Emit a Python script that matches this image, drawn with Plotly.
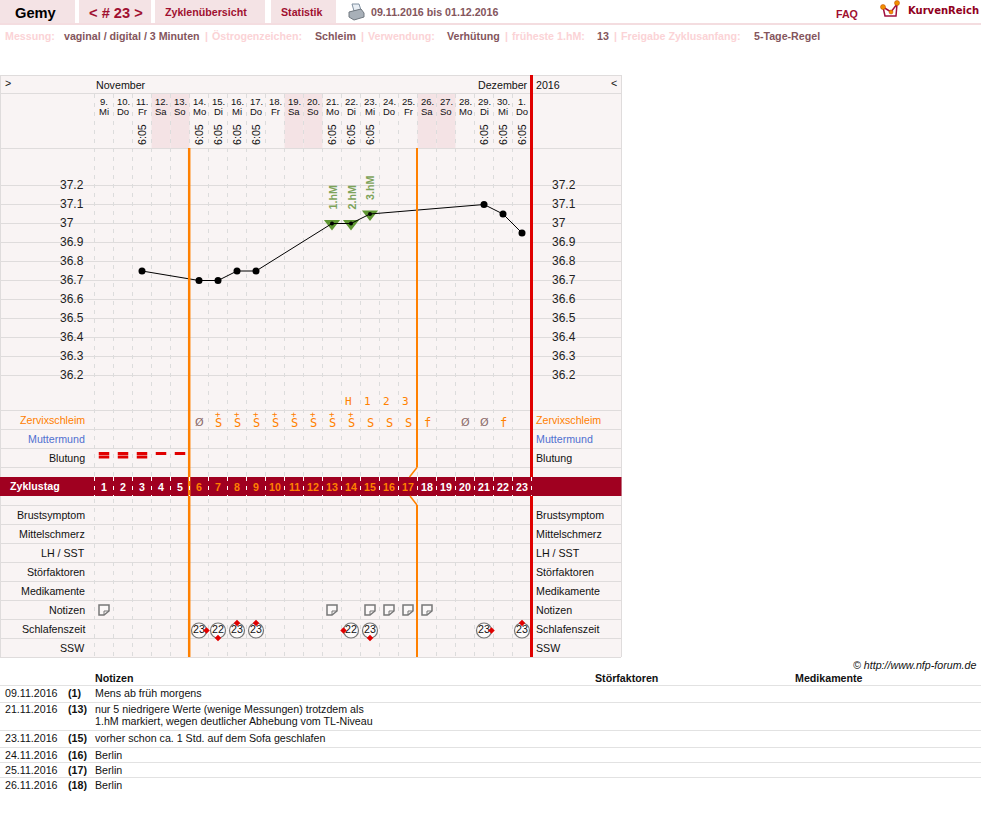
import math
import plotly.graph_objects as go

# ---------------- data ----------------
cycle_days = list(range(1, 24))
dates = ["9.", "10.", "11.", "12.", "13.", "14.", "15.", "16.", "17.", "18.", "19.", "20.", "21.", "22.", "23.", "24.", "25.", "26.", "27.", "28.", "29.", "30.", "1."]
weekdays = ["Mi", "Do", "Fr", "Sa", "So", "Mo", "Di", "Mi", "Do", "Fr", "Sa", "So", "Mo", "Di", "Mi", "Do", "Fr", "Sa", "So", "Mo", "Di", "Mi", "Do"]
weekend_days = [4, 5, 11, 12, 18, 19]
time_days = [3, 6, 7, 8, 9, 13, 14, 15, 21, 22, 23]
time_label = "6:05"
temp_days = [3, 6, 7, 8, 9, 13, 14, 15, 21, 22, 23]
temps = [36.75, 36.70, 36.70, 36.75, 36.75, 37.00, 37.00, 37.05, 37.10, 37.05, 36.95]
hm_days = [13, 14, 15]
hm_temps = [37.00, 37.00, 37.05]
hm_labels = ["1.hM", "2.hM", "3.hM"]
temp_ticks = [37.2, 37.1, 37.0, 36.9, 36.8, 36.7, 36.6, 36.5, 36.4, 36.3, 36.2]
temp_tick_labels = ["37.2", "37.1", "37", "36.9", "36.8", "36.7", "36.6", "36.5", "36.4", "36.3", "36.2"]
peak_days = [14, 15, 16, 17]
peak_labels = ["H", "1", "2", "3"]
mucus_days = [6, 7, 8, 9, 10, 11, 12, 13, 14, 15, 16, 17, 18, 20, 21, 22]
mucus_codes = ["Ø", "S+", "S+", "S+", "S+", "S+", "S+", "S+", "S+", "S", "S", "S", "f", "Ø", "Ø", "f"]
bleed_days = [1, 2, 3, 4, 5]
bleed_levels = [2, 2, 2, 1, 1]
note_days = [1, 13, 15, 16, 17, 18]
sleep_days = [6, 7, 8, 9, 14, 15, 21, 23]
sleep_hours = [23, 22, 23, 23, 22, 23, 23, 23]
sleep_minutes = [15, 30, 0, 0, 45, 30, 15, 0]
left_rows = ["Zervixschleim", "Muttermund", "Blutung", "Brustsymptom", "Mittelschmerz", "LH / SST", "Störfaktoren", "Medikamente", "Notizen", "Schlafenszeit", "SSW"]
row_centers = [420, 439, 458, 515, 534, 553, 572, 591, 610, 629, 648]
row_colors = ["#ff8000", "#5070d0", "#111111", "#111111", "#111111", "#111111", "#111111", "#111111", "#111111", "#111111", "#111111"]
note_rows = [
    ("09.11.2016", "(1)", ["Mens ab früh morgens"]),
    ("21.11.2016", "(13)", ["nur 5 niedrigere Werte (wenige Messungen) trotzdem als", "1.hM markiert, wegen deutlicher Abhebung vom TL-Niveau"]),
    ("23.11.2016", "(15)", ["vorher schon ca. 1 Std. auf dem Sofa geschlafen"]),
    ("24.11.2016", "(16)", ["Berlin"]),
    ("25.11.2016", "(17)", ["Berlin"]),
    ("26.11.2016", "(18)", ["Berlin"]),
]

# ---------------- layout constants ----------------
W, H = 981, 831
PX_PER_DAY = 19
DAY_ZERO_PX = 85          # pixel position of "day 0" centre
PX_PER_DEG = 190
T_REF, T_REF_PX = 37.2, 185.5
SANS = "Liberation Sans"
BASE = 10.67
MAROON = "#a00020"
ORANGE = "#ff8000"
RED = "#e00000"
GRID = "#dfdcdc"
PANEL = "#f9f4f4"
SHADE = "#f4e3e5"
PINK = "#fbd3d6"
BROWN = "#84555c"
DARKRED = "#a01030"

fig = go.Figure()
shapes = []
annots = []


def rect(x0, y0, x1, y1, fill, layer="below"):
    shapes.append(dict(type="rect", xref="x2", yref="y2", x0=x0, x1=x1, y0=y0, y1=y1,
                       fillcolor=fill, line_width=0, layer=layer))


def hline(y, x0=0, x1=621, color=GRID, width=1, yref="y2", dash="solid", layer="below"):
    shapes.append(dict(type="line", xref="x2", yref=yref, x0=x0, x1=x1, y0=y, y1=y,
                       line=dict(color=color, width=width, dash=dash), layer=layer))


def vline(x, y0, y1, color=GRID, width=1, dash="solid", layer="below", xref="x2"):
    shapes.append(dict(type="line", xref=xref, yref="y2", x0=x, x1=x, y0=y0, y1=y1,
                       line=dict(color=color, width=width, dash=dash), layer=layer))


def seg(x0, y0, x1, y1, color, width, layer="above"):
    shapes.append(dict(type="line", xref="x2", yref="y2", x0=x0, x1=x1, y0=y0, y1=y1,
                       line=dict(color=color, width=width), layer=layer))


def txt(x, y, s, size=BASE, color="#111111", bold=False, anchor="left", family=SANS, angle=0,
        xref="x2", yref="y2", yshift=0, italic=False):
    t = f"<b>{s}</b>" if bold else s
    t = f"<i>{t}</i>" if italic else t
    if anchor == "left" and xref == "x2":
        x = x - 1
    annots.append(dict(x=x, y=y, xref=xref, yref=yref, text=t, showarrow=False, xanchor=anchor,
                       yanchor="middle", textangle=angle, borderpad=0, yshift=yshift,
                       font=dict(size=size, color=color, family=family)))


# ---------------- page header ----------------
for x0, x1 in [(0, 75), (79, 151), (155, 265), (271, 336)]:
    rect(x0, 0, x1, 23, SHADE)
rect(0, 23, W, 25, "#f4dde0")
txt(36, 13, "Gemy", size=14.67, bold=True, anchor="center", color="#000000")
txt(115.5, 13, "&lt; # 23 &gt;", size=14.67, bold=True, anchor="center", color=DARKRED)
txt(206, 12, "Zyklenübersicht", bold=True, anchor="center", color=DARKRED)
txt(301.5, 12, "Statistik", bold=True, anchor="center", color=DARKRED)
txt(371, 12, "09.11.2016 bis 01.12.2016", bold=True, color=BROWN)
txt(836, 14, "FAQ", bold=True, color=DARKRED)
txt(908, 10, "KurvenReich", size=10, bold=True, color="#900020", family="DejaVu Sans")

# printer icon
shapes.append(dict(type="path", xref="x2", yref="y2", path="M352,4 L359,4 L361,10 L354,11 Z",
                   fillcolor="#e8eef4", line=dict(color="#8090a0", width=1), layer="above"))
shapes.append(dict(type="path", xref="x2", yref="y2", path="M349,12 L361,9 L364,13 L364,17 L354,20 L349,17 Z",
                   fillcolor="#a8b0b8", line=dict(color="#707880", width=1), layer="above"))
# logo
shapes.append(dict(type="path", xref="x2", yref="y2", path="M883,7 L885,16 L896,16 L897,4 L891,12 L883,7",
                   fillcolor="rgba(0,0,0,0)", line=dict(color="#a01040", width=1.5), layer="above"))
for cx, cy, r in [(883, 7, 2.5), (891, 12, 2), (897, 3, 2.5)]:
    shapes.append(dict(type="circle", xref="x2", yref="y2", x0=cx - r, x1=cx + r, y0=cy - r, y1=cy + r,
                       fillcolor="#f09000", line=dict(color="#c04000", width=0.5), layer="above"))

meta = [(5, "Messung:", PINK), (64, "vaginal / digital / 3 Minuten", BROWN), (205, "|", PINK),
        (212, "Östrogenzeichen:", PINK), (315, "Schleim", BROWN), (361, "|", PINK),
        (368, "Verwendung:", PINK), (447, "Verhütung", BROWN), (505, "|", PINK),
        (512, "früheste 1.hM:", PINK), (597, "13", BROWN), (614, "|", PINK),
        (621, "Freigabe Zyklusanfang:", PINK), (754, "5-Tage-Regel", BROWN)]
for x, s, c in meta:
    txt(x, 36, s, bold=True, color=c)

# ---------------- chart panel ----------------
rect(0, 75, 621.5, 657, PANEL)
for d in weekend_days:
    shapes.append(dict(type="rect", xref="x", yref="y2", x0=d - 0.5, x1=d + 0.5, y0=94, y1=148,
                       fillcolor=SHADE, line_width=0, layer="below"))
for y in [75.5, 93.5, 148.5, 410.5, 429.5, 448.5, 467.5, 505.5, 524.5, 543.5, 562.5, 581.5, 600.5, 619.5, 638.5, 657.5]:
    hline(y)
vline(0.5, 75, 657)
vline(621.5, 75, 657)
for t in temp_ticks:
    hline(t, yref="y")
for d in [0] + cycle_days:
    vline(d + 0.5, 94, 657, dash="4px,5px", color="#dcdcdc", xref="x")
rect(0, 477, 621.5, 496, MAROON, layer="above")

# vertical markers
vline(189.2, 148, 657, color=ORANGE, width=2.5, layer="above")
vline(417, 148, 467.5, color=ORANGE, width=2, layer="above")
seg(417, 467.5, 409.5, 477, ORANGE, 1.5)
seg(410, 496, 417, 505, ORANGE, 1.5)
vline(417, 505, 657, color=ORANGE, width=2, layer="above")
vline(531.5, 75, 477, color=RED, width=3, layer="above")
vline(531.5, 496, 657, color=RED, width=3, layer="above")

# panel header texts
txt(5, 83, "&gt;")
txt(96, 85, "November")
txt(478, 85, "Dezember")
txt(536, 85, "2016")
txt(611, 83, "&lt;")
for d, a, b in zip(cycle_days, dates, weekdays):
    txt(d, 101, a, size=9.5, anchor="center", xref="x")
    txt(d, 111, b, size=9.5, anchor="center", xref="x")
for d in time_days:
    txt(d, 135, time_label, anchor="center", angle=-90, xref="x")

# row captions
for s, y, c in zip(left_rows, row_centers, row_colors):
    txt(86, y, s, color=c, anchor="right")
    txt(536, y, s, color=c)
txt(10, 486, "Zyklustag", bold=True, color="#ffffff")

# cycle day numbers on the band
for d in cycle_days:
    col = ORANGE if 6 <= d <= 17 else "#ffffff"
    annots.append(dict(x=d, y=486.5, xref="x", yref="y2", text=f"<b>{d}</b>", showarrow=False,
                       xanchor="center", yanchor="middle", borderpad=0,
                       font=dict(size=BASE, color=col, family=SANS)))
for d in [0] + cycle_days:
    shapes.append(dict(type="line", xref="x", yref="y2", x0=d + 0.5, x1=d + 0.5, y0=477, y1=496,
                       line=dict(color="#ffffff", width=1, dash="4px,5px"), layer="above"))

# temperature tick labels
for tick_x in [60, 552]:
    fig.add_trace(go.Scatter(x=[tick_x] * len(temp_ticks), y=temp_ticks, xaxis="x2", yaxis="y", mode="text",
                             text=temp_tick_labels, textposition="middle right",
                             textfont=dict(size=12, color="#222222", family=SANS), hoverinfo="skip", cliponaxis=False))

# temperature curve
fig.add_trace(go.Scatter(x=hm_days, y=hm_temps, xaxis="x", yaxis="y", mode="markers",
                         marker=dict(symbol="triangle-down", size=14, color="#5e9632", opacity=1, line=dict(width=0)),
                         hoverinfo="skip"))
normal_size = [4 if d in hm_days else 7 for d in temp_days]
fig.add_trace(go.Scatter(x=temp_days, y=temps, xaxis="x", yaxis="y", mode="lines+markers",
                         line=dict(color="#000000", width=1),
                         marker=dict(size=normal_size, color="#000000", opacity=1, line=dict(width=0)), hoverinfo="skip"))
for d, t, s in zip(hm_days, hm_temps, hm_labels):
    txt(d, t, s, bold=True, color="#7da35a", anchor="center", angle=-90, xref="x", yref="y", yshift=26)

# peak day counters
for d, s in zip(peak_days, peak_labels):
    txt(d - 0.12, 401, s, size=11, color=ORANGE, anchor="center", xref="x", family="DejaVu Sans Mono")

# mucus symbols
for d, c in zip(mucus_days, mucus_codes):
    if c == "Ø":
        txt(d, 422, c, size=11, color="#8a6a6a", anchor="center", xref="x", family="DejaVu Sans")
        continue
    txt(d, 422.5, c[0], size=12, color=ORANGE, anchor="center", xref="x", family="DejaVu Sans Mono")
    if c.endswith("+"):
        txt(d, 413.5, "+", size=9, color=ORANGE, anchor="center", xref="x", family="DejaVu Sans Mono")

# bleeding
upper = list(bleed_days)
lower = [d for d, l in zip(bleed_days, bleed_levels) if l == 2]
fig.add_trace(go.Scatter(x=upper, y=[453.5] * len(upper), xaxis="x", yaxis="y2", mode="markers",
                         marker=dict(symbol="line-ew", size=7.5, line=dict(color=RED, width=3)), hoverinfo="skip"))
fig.add_trace(go.Scatter(x=lower, y=[457] * len(lower), xaxis="x", yaxis="y2", mode="markers",
                         marker=dict(symbol="line-ew", size=7.5, line=dict(color=RED, width=3)), hoverinfo="skip"))

# note icons
for d in note_days:
    shapes.append(dict(type="path", xref="x", yref="y2", xsizemode="pixel", ysizemode="pixel",
                       xanchor=d, yanchor=610,
                       path="M-5,5 L5,5 L5,-1 L0,-5 L-5,-5 Z",
                       fillcolor="#fbf8f8", line=dict(color="#777777", width=1.5), layer="above"))
    shapes.append(dict(type="path", xref="x", yref="y2", xsizemode="pixel", ysizemode="pixel",
                       xanchor=d, yanchor=610,
                       path="M5,-1 L0,-1 L0,-5",
                       line=dict(color="#777777", width=1), layer="above"))

# sleep times
fig.add_trace(go.Scatter(x=sleep_days, y=[630.5] * len(sleep_days), xaxis="x", yaxis="y2", mode="markers+text",
                         text=[str(h) for h in sleep_hours], textposition="middle center",
                         textfont=dict(size=BASE, color="#111111", family=SANS),
                         marker=dict(symbol="circle", size=15, color="rgba(255,255,255,0.5)", line=dict(color="#777777", width=1.2)),
                         hoverinfo="skip"))
mx = [d + 7.5 * math.sin(m / 60 * 2 * math.pi) / PX_PER_DAY for d, m in zip(sleep_days, sleep_minutes)]
my = [630.5 - 7.5 * math.cos(m / 60 * 2 * math.pi) for m in sleep_minutes]
fig.add_trace(go.Scatter(x=mx, y=my, xaxis="x", yaxis="y2", mode="markers",
                         marker=dict(symbol="diamond", size=5, color=RED), hoverinfo="skip"))

# ---------------- notes table ----------------
txt(977, 665, "© http://www.nfp-forum.de", anchor="right", italic=True)
txt(95, 678, "Notizen", bold=True)
txt(595, 678, "Störfaktoren", bold=True)
txt(795, 678, "Medikamente", bold=True)
for y in [685.5, 702.5, 730.5, 747.5, 762.5, 777.5]:
    hline(y, x0=0, x1=W, color="#e2e2e2")
row_y = [693, 709, 738, 755, 770, 785]
for (dt, num, lines), y in zip(note_rows, row_y):
    txt(5, y, dt)
    txt(68, y, num, bold=True)
    for i, ln in enumerate(lines):
        txt(95, y + 12 * i, ln)

# ---------------- axes ----------------
day_range = [(0 - DAY_ZERO_PX) / PX_PER_DAY, (W - DAY_ZERO_PX) / PX_PER_DAY]
temp_range = [T_REF - (H - T_REF_PX) / PX_PER_DEG, T_REF + T_REF_PX / PX_PER_DEG]
hidden = dict(visible=False, showgrid=False, zeroline=False, fixedrange=True)
fig.update_layout(
    width=W, height=H, margin=dict(l=0, r=0, t=0, b=0), showlegend=False,
    paper_bgcolor="#ffffff", plot_bgcolor="rgba(0,0,0,0)",
    font=dict(family=SANS, size=BASE),
    xaxis=dict(range=day_range, domain=[0, 1], **hidden),
    yaxis=dict(range=temp_range, domain=[0, 1], **hidden),
    xaxis2=dict(range=[0, W], domain=[0, 1], overlaying="x", **hidden),
    yaxis2=dict(range=[H, 0], domain=[0, 1], overlaying="y", **hidden),
    shapes=shapes, annotations=annots,
)
fig.write_html("out.html", config=dict(displayModeBar=False), post_script="document.body.style.margin='0';document.body.style.overflow='hidden';")
